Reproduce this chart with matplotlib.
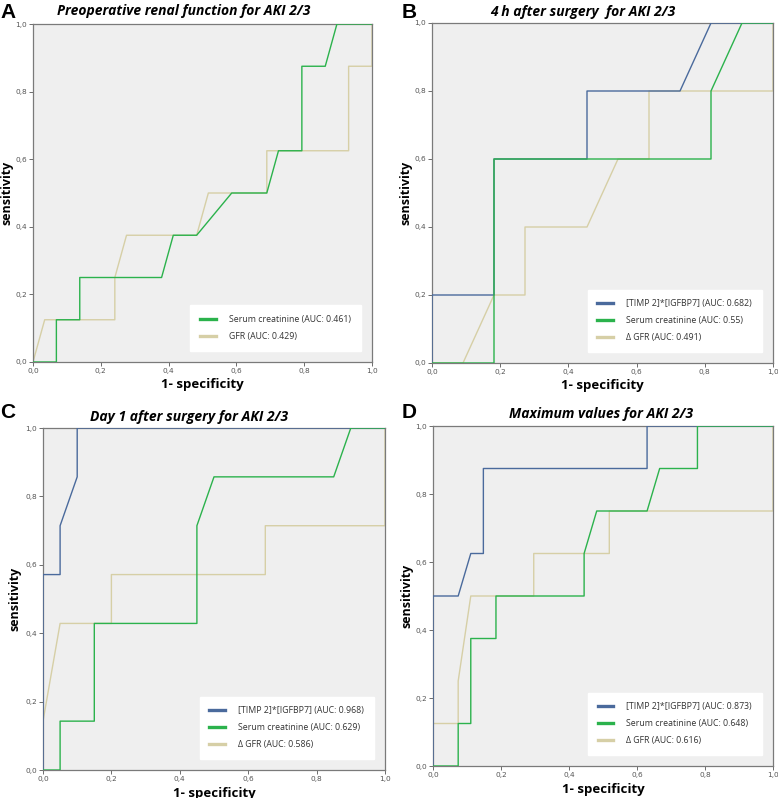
import matplotlib
matplotlib.use("Agg")
import matplotlib.pyplot as plt
from matplotlib.ticker import FuncFormatter

# colours (SPSS style)
BLUE = "#4a6a9c"
GREEN = "#2bb24c"
TAN = "#d6cfa6"

# ---- A: preoperative ----
a_crea_x = [0, 2/29, 2/29, 4/29, 4/29, 11/29, 12/29, 14/29, 17/29, 20/29, 21/29, 23/29, 23/29, 25/29, 26/29, 1]
a_crea_y = [0, 0, 0.125, 0.125, 0.25, 0.25, 0.375, 0.375, 0.5, 0.5, 0.625, 0.625, 0.875, 0.875, 1, 1]
a_gfr_x = [0, 1/29, 7/29, 7/29, 8/29, 14/29, 15/29, 20/29, 20/29, 27/29, 27/29, 1, 1]
a_gfr_y = [0, 0.125, 0.125, 0.25, 0.375, 0.375, 0.5, 0.5, 0.625, 0.625, 0.875, 0.875, 1]

# ---- B: 4 h after surgery ----
b_timp_x = [0, 0, 2/11, 2/11, 5/11, 5/11, 8/11, 9/11, 1]
b_timp_y = [0, 0.2, 0.2, 0.6, 0.6, 0.8, 0.8, 1, 1]
b_crea_x = [0, 2/11, 2/11, 9/11, 9/11, 10/11, 1]
b_crea_y = [0, 0, 0.6, 0.6, 0.8, 1, 1]
b_gfr_x = [0, 1/11, 2/11, 3/11, 3/11, 5/11, 6/11, 7/11, 7/11, 1, 1]
b_gfr_y = [0, 0, 0.2, 0.2, 0.4, 0.4, 0.6, 0.6, 0.8, 0.8, 1]

# ---- C: day 1 after surgery ----
c_timp_x = [0, 0, 0.05, 0.05, 0.10, 0.10, 1]
c_timp_y = [0, 4/7, 4/7, 5/7, 6/7, 1, 1]
c_crea_x = [0, 0.05, 0.05, 0.15, 0.15, 0.45, 0.45, 0.50, 0.85, 0.90, 1]
c_crea_y = [0, 0, 1/7, 1/7, 3/7, 3/7, 5/7, 6/7, 6/7, 1, 1]
c_gfr_x = [0, 0, 0.05, 0.20, 0.20, 0.65, 0.65, 1, 1]
c_gfr_y = [0, 1/7, 3/7, 3/7, 4/7, 4/7, 5/7, 5/7, 1]

# ---- D: maximum values ----
d_timp_x = [0, 0, 2/27, 3/27, 4/27, 4/27, 17/27, 17/27, 1]
d_timp_y = [0, 0.5, 0.5, 0.625, 0.625, 0.875, 0.875, 1, 1]
d_crea_x = [0, 2/27, 2/27, 3/27, 3/27, 5/27, 5/27, 12/27, 12/27, 13/27, 17/27, 18/27, 21/27, 21/27, 1]
d_crea_y = [0, 0, 0.125, 0.125, 0.375, 0.375, 0.5, 0.5, 0.625, 0.75, 0.75, 0.875, 0.875, 1, 1]
d_gfr_x = [0, 0, 2/27, 2/27, 3/27, 8/27, 8/27, 14/27, 14/27, 1, 1]
d_gfr_y = [0, 0.125, 0.125, 0.25, 0.5, 0.5, 0.625, 0.625, 0.75, 0.75, 1]

W, H = 778, 798

# letter, title, axes box (px: left, top, right, bottom), title centre (px), ylabel x (px), letter pos, series
panels = [
    ("A", "Preoperative renal function for AKI 2/3", (33, 24, 372, 362), (184, 11), 7, (0, 3),
     [(a_crea_x, a_crea_y, GREEN, "Serum creatinine (AUC: 0.461)"),
      (a_gfr_x, a_gfr_y, TAN, "GFR (AUC: 0.429)")]),
    ("B", "4 h after surgery  for AKI 2/3", (432, 23, 773, 363), (583, 12), 406, (402, 3),
     [(b_timp_x, b_timp_y, BLUE, "[TIMP 2]*[IGFBP7] (AUC: 0.682)"),
      (b_crea_x, b_crea_y, GREEN, "Serum creatinine (AUC: 0.55)"),
      (b_gfr_x, b_gfr_y, TAN, "\u0394 GFR (AUC: 0.491)")]),
    ("C", "Day 1 after surgery for AKI 2/3", (43, 428, 385, 770), (189, 417), 15, (0, 403),
     [(c_timp_x, c_timp_y, BLUE, "[TIMP 2]*[IGFBP7] (AUC: 0.968)"),
      (c_crea_x, c_crea_y, GREEN, "Serum creatinine (AUC: 0.629)"),
      (c_gfr_x, c_gfr_y, TAN, "\u0394 GFR (AUC: 0.586)")]),
    ("D", "Maximum values for AKI 2/3", (433, 426, 773, 766), (601, 414), 407, (402, 403),
     [(d_timp_x, d_timp_y, BLUE, "[TIMP 2]*[IGFBP7] (AUC: 0.873)"),
      (d_crea_x, d_crea_y, GREEN, "Serum creatinine (AUC: 0.648)"),
      (d_gfr_x, d_gfr_y, TAN, "\u0394 GFR (AUC: 0.616)")]),
]

comma = FuncFormatter(lambda v, p: f"{v:.1f}".replace(".", ","))

fig = plt.figure(figsize=(W / 100, H / 100), dpi=100)

for letter, title, box, tpos, ylab_x, lpos, series in panels:
    l, t, r, b = box
    ax = fig.add_axes([l / W, 1 - b / H, (r - l) / W, (b - t) / H])
    ax.set_facecolor("#efefef")
    for xs, ys, col, lab in series:
        z = 2 if col == TAN else 3
        ax.plot(xs, ys, color=col, lw=1.0, label=lab, zorder=z)
    ax.set_xlim(0, 1)
    ax.set_ylim(0, 1)
    ax.set_xticks([0, 0.2, 0.4, 0.6, 0.8, 1.0])
    ax.set_yticks([0, 0.2, 0.4, 0.6, 0.8, 1.0])
    ax.xaxis.set_major_formatter(comma)
    ax.yaxis.set_major_formatter(comma)
    ax.tick_params(labelsize=5.3, labelcolor="#555555", color="#555555",
                   length=3, width=0.6, pad=1.2)
    for s in ax.spines.values():
        s.set_color("#7a7a7a")
        s.set_linewidth(0.9)

    ax.set_xlabel("1- specificity", fontsize=9.5, fontweight="bold",
                  family="Open Sans", va="center")
    ax.xaxis.set_label_coords(0.5, -23 / (b - t))
    ax.set_ylabel("sensitivity", fontsize=9, fontweight="bold",
                  family="Open Sans", va="center")
    ax.yaxis.set_label_coords((ylab_x - l) / (r - l), 0.5)

    fig.text(tpos[0] / W, 1 - tpos[1] / H, title, fontsize=10, fontweight="bold",
             style="italic", family="Open Sans", ha="center", va="center")
    fig.text(lpos[0] / W, 1 - lpos[1] / H, letter, fontsize=15, fontweight="bold",
             family="Liberation Sans", ha="left", va="top")

    leg = ax.legend(loc="lower right", frameon=True, fancybox=False,
                    borderpad=1.1, labelspacing=0.9, handlelength=1.8,
                    handletextpad=1.5, borderaxespad=1.3,
                    prop={"family": "Open Sans", "size": 6.3})
    leg.get_frame().set_facecolor("white")
    leg.get_frame().set_edgecolor("white")
    leg.get_frame().set_alpha(1)
    for h in leg.get_lines():
        h.set_linewidth(2.4)
    for txt in leg.get_texts():
        txt.set_color("#333333")

fig.savefig("out.png", dpi=100)
